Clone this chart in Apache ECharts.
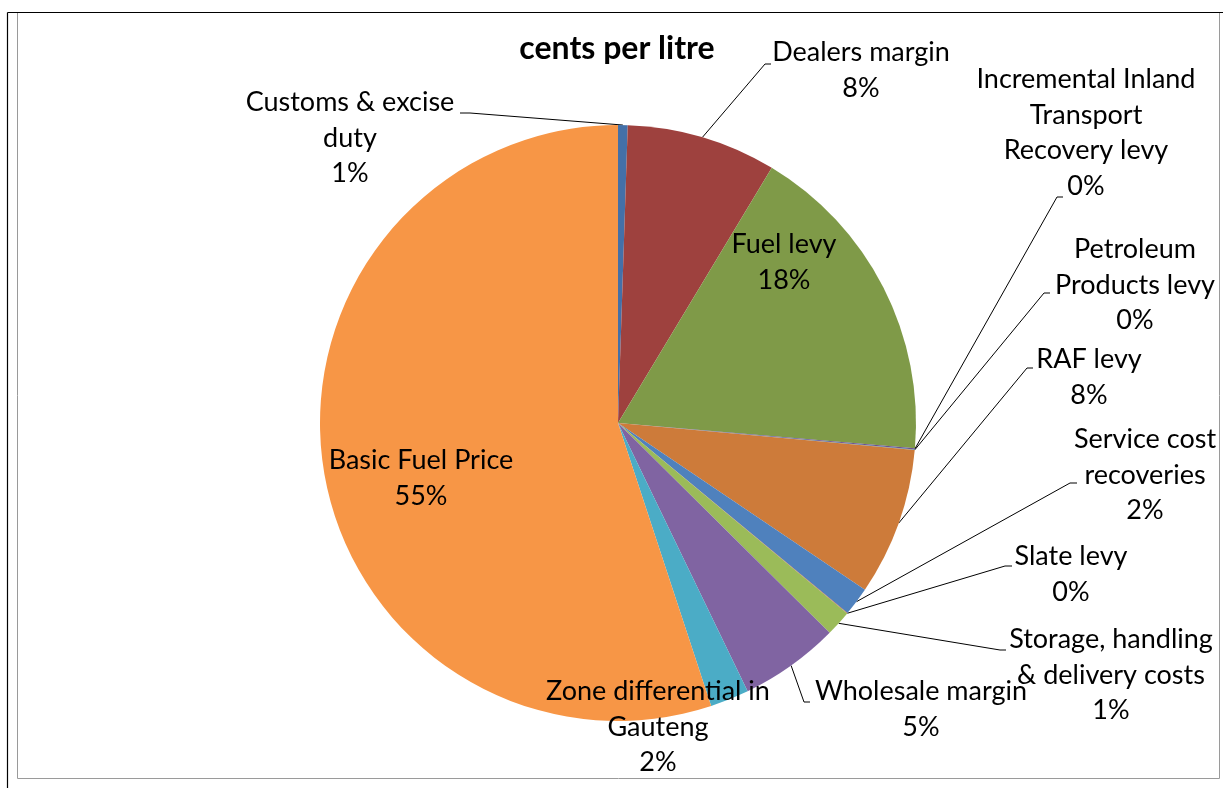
<!DOCTYPE html>
<html>
<head>
<meta charset="utf-8">
<script src="https://cdn.jsdelivr.net/npm/echarts@6/dist/echarts.min.js"></script>
<style>
  html, body { margin: 0; padding: 0; background: #fff; }
  #chart { width: 1223px; height: 788px; }
</style>
</head>
<body>
<div id="chart"></div>
<script>
// slices, clockwise from 12 o'clock
const categories = [
  'Customs & excise\nduty',
  'Dealers margin',
  'Fuel levy',
  'Incremental Inland\nTransport\nRecovery levy',
  'Petroleum\nProducts levy',
  'RAF levy',
  'Service cost\nrecoveries',
  'Slate levy',
  'Storage, handling\n& delivery costs',
  'Wholesale margin',
  'Zone differential in\nGauteng',
  'Basic Fuel Price'
]
const centsPerLitre = [5.2, 81, 177, 0.7, 0.3, 80, 15.5, 0.2, 14, 54, 21, 550]
const sliceColors = ['#4470A8', '#9E413E', '#7F9A48', '#6A5294', '#3A8CA4', '#CD7B3A',
  '#4F81BD', '#C0504D', '#9BBB59', '#8064A2', '#4BACC6', '#F79646']

// label placement (center x, top y) and leader line ends (elbow x, y, tick end x)
const labelSpots = [[350, 85], [861, 35], [784, 227], [1086, 62], [1135, 232], [1089, 342],
  [1145, 422], [1071, 539], [1111, 622], [921, 674], [658, 674], [421, 443]]
const leaderEnds = [[470, 113, 460], [765, 64, 771], null, [1057, 197, 1063], [1044, 293, 1050],
  [1027, 368, 1033], [1070, 483, 1077], [1005, 566, 1012], [1000, 650, 1006], [804, 702, 810], null, null]

const chart = echarts.init(document.getElementById('chart'))

const pieData = categories.map((name, i) => ({
  name,
  value: centsPerLitre[i],
  itemStyle: { color: sliceColors[i] },
  labelLine: { show: leaderEnds[i] != null }
}))

chart.setOption({
  animation: false,
  backgroundColor: '#fff',
  graphic: [
    { type: 'rect', shape: { x: 17.5, y: 12.5, width: 1202, height: 766 },
      style: { fill: 'none', stroke: '#9a9a9a', lineWidth: 1 } },
    { type: 'line', shape: { x1: 7.5, y1: 12.5, x2: 7.5, y2: 788 },
      style: { stroke: '#000', lineWidth: 1.2 } },
    { type: 'line', shape: { x1: 7.5, y1: 12.5, x2: 1223, y2: 12.5 },
      style: { stroke: '#000', lineWidth: 1.2 } },
    { type: 'text', x: 617, y: 49,
      style: { text: 'cents per litre', fill: '#000', font: 'bold 32px Lato',
        align: 'center', verticalAlign: 'middle' } }
  ],
  series: [{
    type: 'pie',
    center: [618, 423],
    radius: 298,
    startAngle: 90,
    clockwise: true,
    avoidLabelOverlap: false,
    itemStyle: { borderWidth: 0 },
    label: {
      show: true,
      position: 'outside',
      color: '#000',
      fontFamily: 'Lato',
      fontSize: 27,
      lineHeight: 35.5,
      width: 300,
      overflow: 'none',
      align: 'center',
      formatter: p => p.name + '\n' + Math.round(p.percent) + '%'
    },
    labelLine: {
      lineStyle: { color: '#000', width: 1 }
    },
    labelLayout: params => {
      const i = params.dataIndex
      const out = {
        x: labelSpots[i][0],
        y: labelSpots[i][1],
        align: 'center',
        verticalAlign: 'top'
      }
      const end = leaderEnds[i]
      if (end && params.labelLinePoints) {
        const rim = params.labelLinePoints[0]
        out.labelLinePoints = [[rim[0], rim[1]], [end[0], end[1]], [end[2], end[1]]]
      }
      return out
    },
    data: pieData
  }]
})
</script>
</body>
</html>
